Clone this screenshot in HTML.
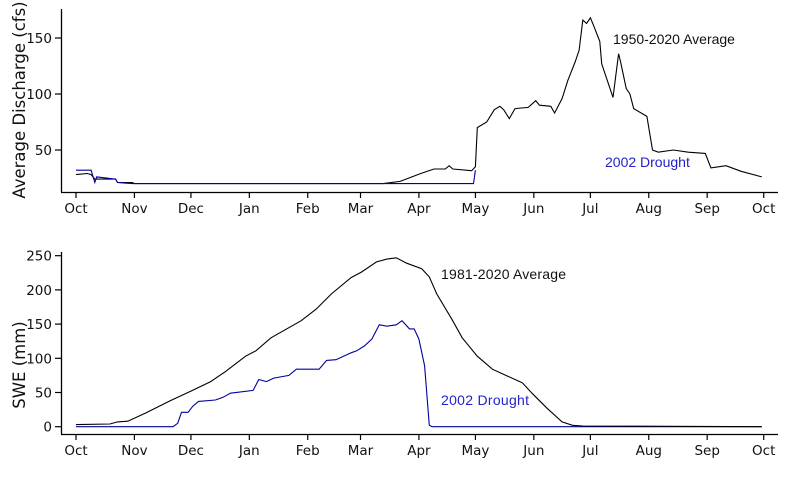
<!DOCTYPE html>
<html><head><meta charset="utf-8"><style>
html,body{margin:0;padding:0;background:#fff;}
svg{display:block;font-family:"DejaVu Sans","Liberation Sans",sans-serif;}
</style></head><body>
<svg id="c" width="787" height="484" viewBox="0 0 787 484"></svg>
<script>
const monthLabels=["Oct","Nov","Dec","Jan","Feb","Mar","Apr","May","Jun","Jul","Aug","Sep","Oct"];
const monthDays=[0,31,61,92,123,151,182,212,243,273,304,335,365];
const qTicks=[50,100,150];
const sweTicks=[0,50,100,150,200,250];
const qAvgDays=[0,6,8,10,21,22,30,31,163,172,183,190,196,198,200,210,212,213,218,222,225,227,230,233,240,244,246,252,254,258,261,265,267,269,271,273,275,278,279,285,288,289,292,294,296,303,306,309,317,325,334,337,345,353,364];
const qAvgVals=[28,29,28,24,24,21,21,20,20,22,29,33,33,36,33,31.5,35,70,75,86,89,86,78,87,88,94,90,89,83,96,112,129,139,166,163,168,160,147,127,97,136,129,105,100,87,80,50,48,50,48,47,34,36,31,26];
const qDrDays=[0,8,10,11,21,22,30,211,212];
const qDrVals=[32,32,21,26,24,21,20,20,32];
const sAvgDays=[0,18,22,27.5,37,50,61,71.5,79.5,90,95.5,103.5,119.5,127.5,135.5,146,151.5,159.5,165,170,175.5,183.5,187.5,191.5,199.5,205,213,221,229,237,242,250,258,263.5,269,364];
const sAvgVals=[3,4,7,8,20,38,52,66,81,103,111,130,155,172,194,218,226,241,245,247,239,231,219,194,157,130,103,84,74,64,49,27,7,2,1,0];
const sDrDays=[0,51.5,54,56,59.5,62,65,74,78,82,94,97,101,105,113,117,129,133,138,146,149,153,157,161,165,170,173,177,179.5,182,185,187.5,189,364];
const sDrVals=[0,0,5,21,21,30,37,39,43,49,53,69,66,71,75,84,84,97,98,108,111,118,128,149,147,149,155,143,143,128,89,2,0,0];

const NS="http://www.w3.org/2000/svg";
const svg=document.getElementById('c');
function mk(t,a,p){const e=document.createElementNS(NS,t);for(const k in a)e.setAttribute(k,a[k]);(p||svg).appendChild(e);return e;}
const xs=d=>76+d/365*687.7;
const yQ=v=>206-1.12*v;
const yS=v=>426.7-0.684*v;

function panel(name,yfn,ticks,axisTop,axisY,xEnd,title,titleY){
  const g=mk('g',{});
  
  
  const ya=mk('line',{x1:61.5,y1:axisTop,x2:61.5,y2:axisY,stroke:'#000','stroke-width':1.3},g);
  
  
  const xa=mk('line',{x1:61,y1:axisY+0.5,x2:xEnd,y2:axisY+0.5,stroke:'#000','stroke-width':1.3},g);
  
  
  ticks.forEach(t=>{const y=yfn(t);
    mk('line',{x1:55,y1:y,x2:61.5,y2:y,stroke:'#000','stroke-width':1.2},g);
    const tx=mk('text',{x:52,y:y+5,'text-anchor':'end','font-size':13.5,fill:'#111'},g);
    tx.textContent=t;
    
    });
  monthDays.forEach((d,i)=>{const x=xs(d);
    mk('line',{x1:x,y1:axisY,x2:x,y2:axisY+6,stroke:'#000','stroke-width':1.2},g);
    const tx=mk('text',{x:x,y:axisY+21,'text-anchor':'middle','font-size':13.5,fill:'#111'},g);
    tx.textContent=monthLabels[i];
    
    });
  const tt=mk('text',{x:0,y:0,'text-anchor':'middle','font-size':16.5,fill:'#111',transform:`translate(25,${titleY}) rotate(-90)`},g);
  tt.textContent=title;
  
  
}
function line(name,days,vals,yfn,col){
  const p=mk('polyline',{points:days.map((d,i)=>xs(d).toFixed(1)+','+yfn(vals[i]).toFixed(1)).join(' '),fill:'none',stroke:col,'stroke-width':1.1});
  
  
}
function label(name,x,y,txt,col,fs,cond){
  const t=mk('text',{x:x,y:y,'font-size':fs,fill:col,'font-family':'"Liberation Sans",sans-serif'});
  if(cond)t.setAttribute('textLength',cond);
  t.textContent=txt;
  
  
}
panel('discharge-panel',yQ,qTicks,9,192,778,'Average Discharge (cfs)',100);
panel('swe-panel',yS,sweTicks,252,434,778,'SWE (mm)',365);
line('discharge-average-line',qAvgDays,qAvgVals,yQ,'#000');
line('discharge-drought-line',qDrDays,qDrVals,yQ,'#0000a0');
line('swe-drought-line',sDrDays,sDrVals,yS,'#0000a0');
line('swe-average-line',sAvgDays,sAvgVals,yS,'#000');
label('discharge-average-label',613,44,'1950-2020 Average','#111',14);
label('discharge-drought-label',605,167,'2002 Drought','#2222cc',14);
label('swe-average-label',441,279,'1981-2020 Average','#111',14,125);
label('swe-drought-label',441,405,'2002 Drought','#2222cc',14,88);
</script>
</body></html>
